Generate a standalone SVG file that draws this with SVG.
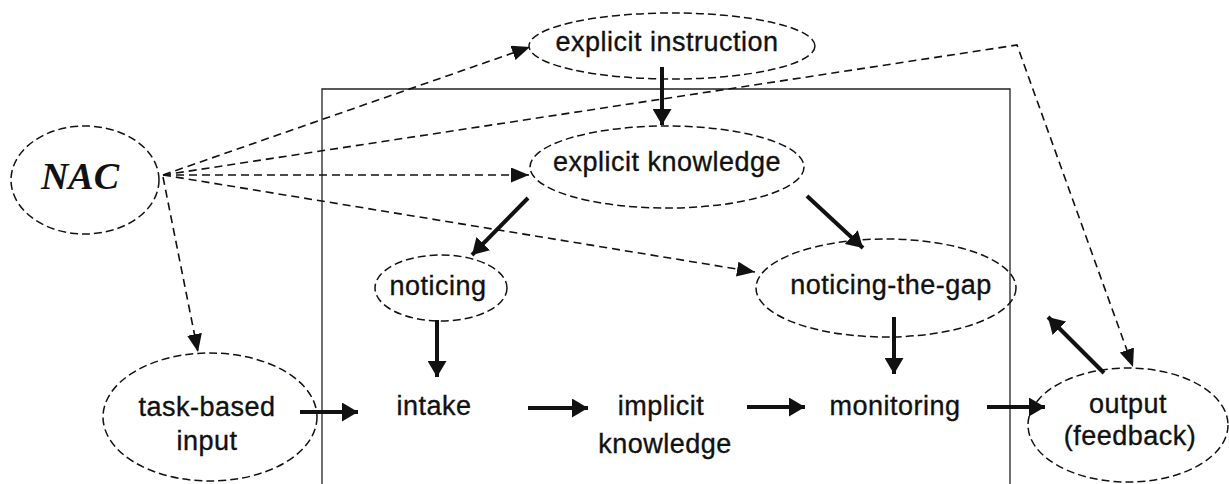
<svg xmlns="http://www.w3.org/2000/svg" width="1229" height="484" viewBox="0 0 1229 484">
  <style>
    .node ellipse { fill: none; stroke: #111; stroke-width: 1.5; stroke-dasharray: 8 4; }
    .label { font-family: "Liberation Sans", Arial, sans-serif; font-size: 27px; letter-spacing: 0.5px; fill: #111; stroke: #111; stroke-width: 0.35; text-anchor: middle; }
    .nac { font-family: "Liberation Serif", "Times New Roman", serif; font-size: 38px; font-weight: bold; font-style: italic; fill: #111; text-anchor: middle; }
    .dash { fill: none; stroke: #111; stroke-width: 1.6; stroke-dasharray: 8 5; marker-end: url(#headThin); }
    .thick { fill: none; stroke: #111; stroke-width: 4; marker-end: url(#headThick); }
    .frame { fill: none; stroke: #222; stroke-width: 1.3; }
  </style>
  <defs>
    <marker id="headThin" markerUnits="userSpaceOnUse" markerWidth="18" markerHeight="15" refX="18" refY="7.5" orient="auto">
      <path d="M0,0 L18,7.5 L0,15 Z" fill="#111"/>
    </marker>
    <marker id="headThick" markerUnits="userSpaceOnUse" markerWidth="16" markerHeight="19" refX="16" refY="9.5" orient="auto">
      <path d="M0,0 L16,9.5 L0,19 Z" fill="#111"/>
    </marker>
  </defs>

  <rect width="1229" height="484" fill="#fff"/>

  <!-- open frame around the internal processes -->
  <path class="frame" d="M322,484 V89 H1010 V484"/>

  <g id="connectors">
    <!-- dashed links fanning out from NAC -->
    <path class="dash" d="M163,175 L530,47"/>
    <path class="dash" d="M163,175 L529,175"/>
    <path class="dash" d="M163,175 L755,272"/>
    <path class="dash" d="M163,175 L1017,45 L1133,367"/>
    <path class="dash" d="M163,177 L198,352"/>
    <!-- solid process arrows -->
    <path class="thick" d="M662,67 L662,125"/>
    <path class="thick" d="M528,198 L472,255"/>
    <path class="thick" d="M807,196 L863,248"/>
    <path class="thick" d="M437,320 L437,377"/>
    <path class="thick" d="M894,317 L894,374"/>
    <path class="thick" d="M300,412 L358,412"/>
    <path class="thick" d="M528,408 L588,408"/>
    <path class="thick" d="M747,407 L805,407"/>
    <path class="thick" d="M987,407 L1045,407"/>
    <path class="thick" d="M1104,373 L1048,317"/>
  </g>

  <g id="nac" class="node">
    <ellipse cx="85" cy="180" rx="74" ry="54"/>
    <text class="nac" x="80" y="189">NAC</text>
  </g>

  <g id="explicit-instruction" class="node">
    <ellipse cx="672" cy="46" rx="143" ry="33"/>
    <text class="label" x="667" y="51">explicit instruction</text>
  </g>

  <g id="explicit-knowledge" class="node">
    <ellipse cx="667" cy="167" rx="137" ry="41"/>
    <text class="label" x="667" y="171">explicit knowledge</text>
  </g>

  <g id="noticing" class="node">
    <ellipse cx="441" cy="288" rx="66" ry="33"/>
    <text class="label" x="438" y="295">noticing</text>
  </g>

  <g id="noticing-the-gap" class="node">
    <ellipse cx="886" cy="288" rx="130" ry="49"/>
    <text class="label" x="891" y="294">noticing-the-gap</text>
  </g>

  <g id="task-based-input" class="node">
    <ellipse cx="210" cy="417" rx="107" ry="64"/>
    <text class="label" x="207" y="416">task-based</text>
    <text class="label" x="207" y="450">input</text>
  </g>

  <g id="intake" class="node">
    <text class="label" x="434" y="415">intake</text>
  </g>

  <g id="implicit-knowledge" class="node">
    <text class="label" x="661" y="415">implicit</text>
    <text class="label" x="665" y="453">knowledge</text>
  </g>

  <g id="monitoring" class="node">
    <text class="label" x="895" y="415">monitoring</text>
  </g>

  <g id="output" class="node">
    <ellipse cx="1128" cy="425" rx="100" ry="57"/>
    <text class="label" x="1128" y="413">output</text>
    <text class="label" x="1130" y="445">(feedback)</text>
  </g>
</svg>
